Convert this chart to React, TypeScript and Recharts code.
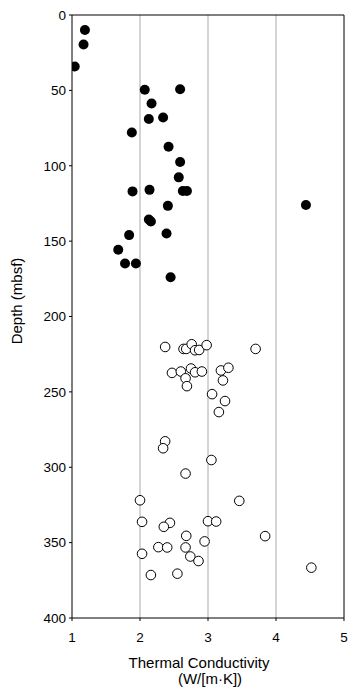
import React from "react";
import {
  ScatterChart,
  Scatter,
  XAxis,
  YAxis,
  CartesianGrid,
  ReferenceLine,
} from "recharts";

// upper section (filled)
const upperDepth = [10, 19.6, 34.2, 49.6, 49.2, 58.7, 69, 68, 78, 87.4, 97.5, 107.7, 117, 116, 116.7, 116.7, 126.6, 126, 135.7, 137, 146, 145, 155.7, 164.8, 164.8, 174];
const upperK = [1.19, 1.17, 1.04, 2.07, 2.59, 2.17, 2.13, 2.34, 1.88, 2.42, 2.59, 2.57, 1.89, 2.14, 2.63, 2.69, 2.41, 4.44, 2.13, 2.16, 1.84, 2.39, 1.68, 1.78, 1.94, 2.45];

// lower section (open)
const lowerDepth = [220.2, 221.5, 221.5, 218.4, 222.4, 222.2, 219, 221.5, 237.4, 236.5, 234.5, 237, 236.5, 241, 246.2, 235.8, 234, 242.4, 251.5, 256.1, 263.4, 282.8, 287.4, 295.2, 304.2, 321.9, 322.3, 336.2, 336.9, 339.5, 335.8, 336, 345.5, 345.7, 349.2, 353, 353.2, 353.2, 357.4, 359.2, 362.2, 371.5, 370.6, 366.6];
const lowerK = [2.37, 2.64, 2.68, 2.76, 2.81, 2.87, 2.98, 3.7, 2.47, 2.6, 2.75, 2.81, 2.91, 2.67, 2.69, 3.19, 3.3, 3.22, 3.06, 3.25, 3.16, 2.37, 2.34, 3.05, 2.67, 2.0, 3.46, 2.03, 2.44, 2.35, 3.0, 3.12, 2.68, 3.84, 2.95, 2.27, 2.4, 2.67, 2.03, 2.74, 2.86, 2.16, 2.55, 4.52];

const xTicks = [1, 2, 3, 4, 5];
const yTicks = [0, 50, 100, 150, 200, 250, 300, 350, 400];

const upper = upperK.map((k, i) => ({ k, depth: upperDepth[i] }));
const lower = lowerK.map((k, i) => ({ k, depth: lowerDepth[i] }));

const FONT = "'Liberation Sans', Arial, sans-serif";

const Dot = (p: any) => <circle cx={p.cx} cy={p.cy} r={5} fill="#000" />;
const Ring = (p: any) => <circle cx={p.cx} cy={p.cy} r={4.8} fill="#fff" stroke="#000" strokeWidth={1} />;

export default function App() {
  return (
    <div style={{ position: "absolute", left: 0, top: 0, width: 360, height: 699, background: "#fff" }}>
      <ScatterChart width={360} height={699} margin={{ top: 15, right: 16, bottom: 51, left: 0 }}>
        <CartesianGrid horizontal={false} vertical stroke="#aaa" verticalValues={[2, 3, 4]} />
        <XAxis
          type="number"
          dataKey="k"
          domain={[1, 5]}
          ticks={xTicks}
          interval={0}
          height={30}
          tickSize={3}
          tickMargin={11}
          stroke="#000"
          tickLine={{ stroke: "#000" }}
          tick={{ fill: "#000", fontSize: 13.5, fontFamily: FONT }}
          allowDataOverflow
        />
        <YAxis
          type="number"
          dataKey="depth"
          domain={[0, 400]}
          ticks={yTicks}
          interval={0}
          reversed
          width={72}
          tickSize={3}
          tickMargin={3}
          stroke="#000"
          tickLine={{ stroke: "#000" }}
          tick={{ fill: "#000", fontSize: 13.5, fontFamily: FONT }}
          allowDataOverflow
        />
        <ReferenceLine y={0} stroke="#000" />
        <ReferenceLine x={5} stroke="#000" />
        <Scatter data={upper} shape={Dot} isAnimationActive={false} />
        <Scatter data={lower} shape={Ring} isAnimationActive={false} />
      </ScatterChart>
      <svg width={360} height={699} style={{ position: "absolute", left: 0, top: 0, pointerEvents: "none" }}>
        <text fontFamily={FONT} fontSize={15} fill="#000" textAnchor="middle">
          <tspan x={199} y={668}>Thermal Conductivity</tspan>
          <tspan x={210} y={684}>(W/[m·K])</tspan>
        </text>
        <text x={22} y={301} fontFamily={FONT} fontSize={15} fill="#000" textAnchor="middle" transform="rotate(-90 22 301)">
          Depth (mbsf)
        </text>
      </svg>
    </div>
  );
}
